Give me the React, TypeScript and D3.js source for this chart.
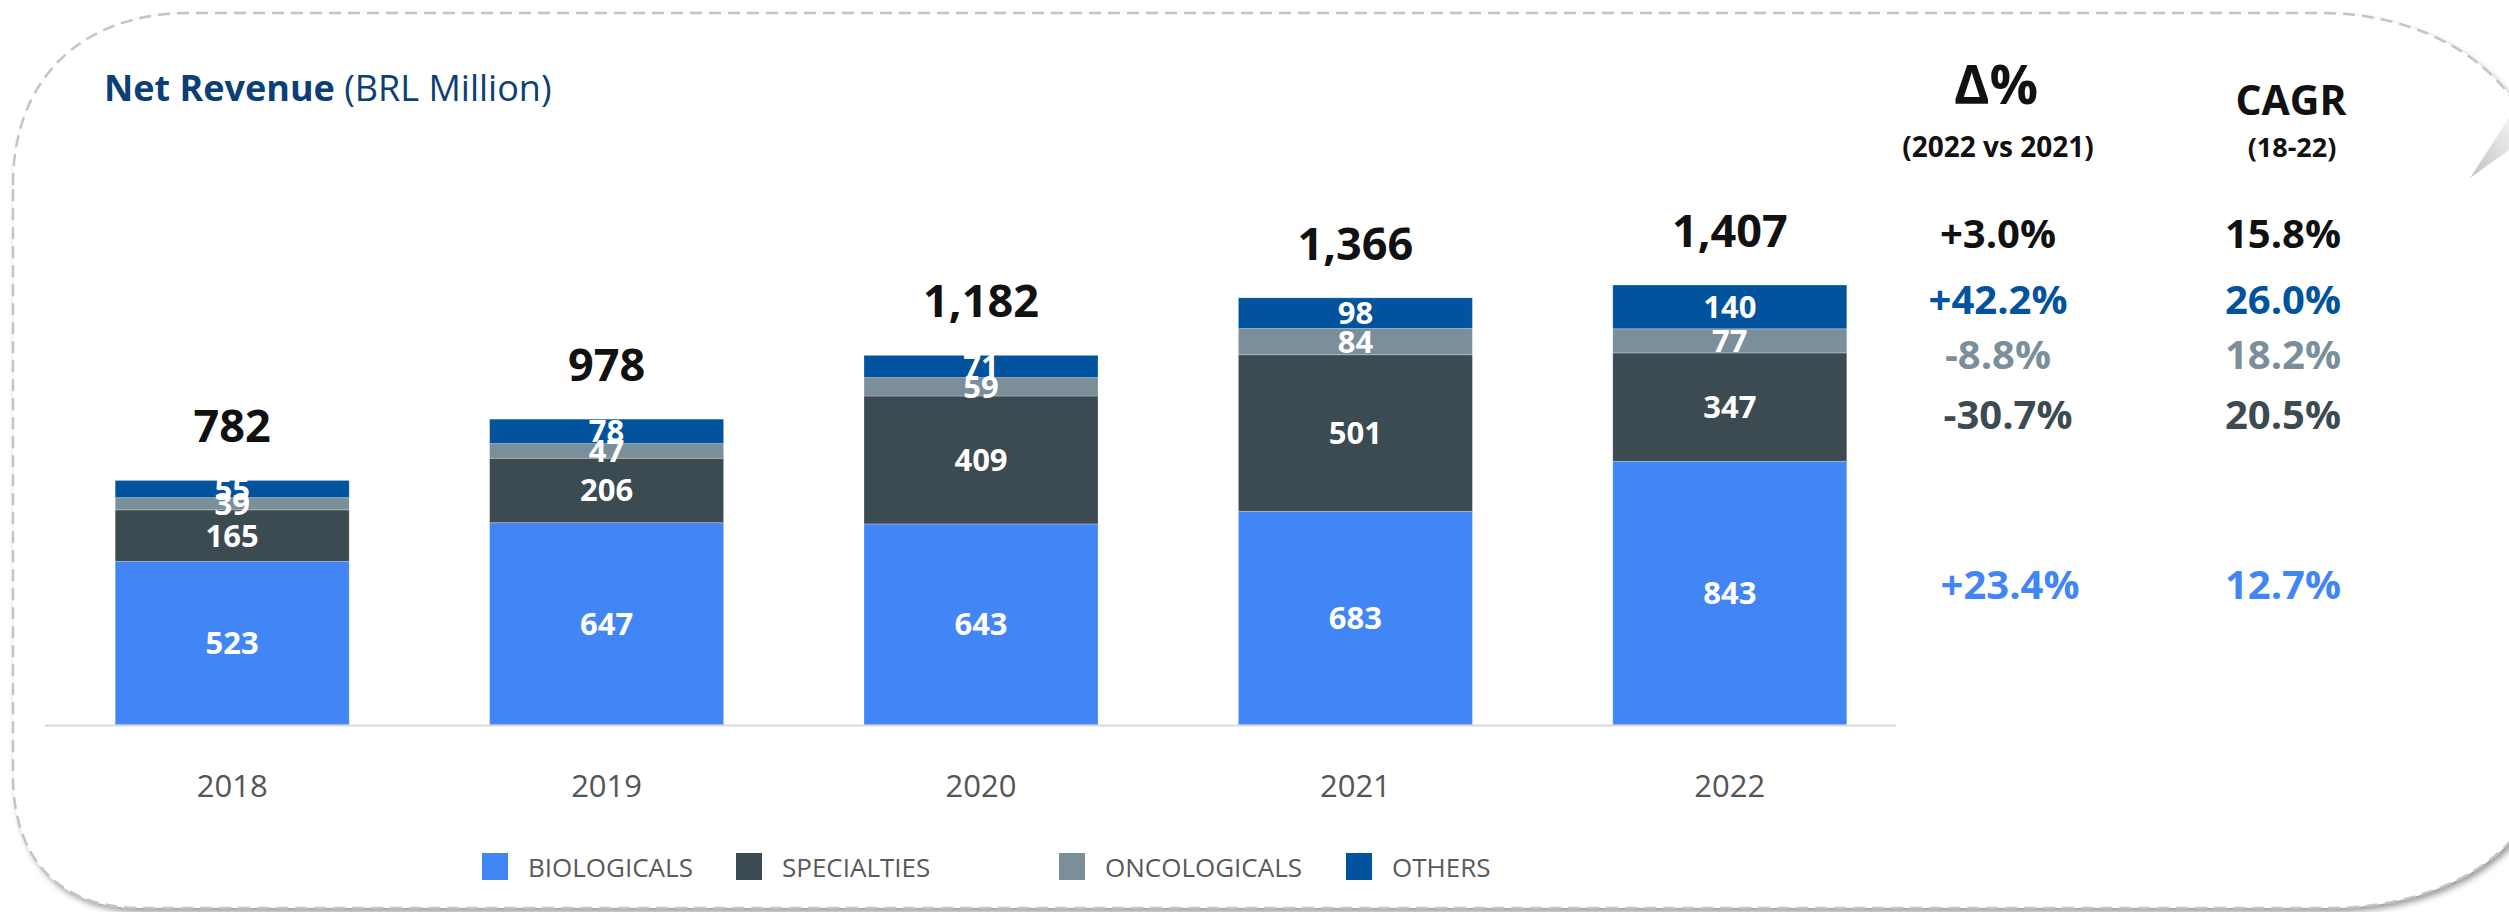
import React from "react";
import * as d3 from "d3";

// values (BRL million)
const years = ["2018", "2019", "2020", "2021", "2022"];
const biologicals = [523, 647, 643, 683, 843];
const specialties = [165, 206, 409, 501, 347];
const oncologicals = [39, 47, 59, 84, 77];
const others = [55, 78, 71, 98, 140];
const seriesNames = ["BIOLOGICALS", "SPECIALTIES", "ONCOLOGICALS", "OTHERS"];

// side table: total, others, oncologicals, specialties, biologicals
const deltaLabels = ["+3.0%", "+42.2%", "-8.8%", "-30.7%", "+23.4%"];
const cagrLabels = ["15.8%", "26.0%", "18.2%", "20.5%", "12.7%"];

const colors = ["#4285f4", "#3c4a51", "#7a8f99", "#00539c"];
const rowColors = ["#111111", "#00539c", "#7a8f99", "#3c4a51", "#4285f4"];
const rowY = [248, 314, 369, 429, 599];
const rowX = [1998, 1998, 1998, 2008, 2010];
const legendX = [482, 736, 1059, 1346];

const W = 2509;
const H = 912;
const FONT = "'Open Sans', 'Noto Sans', sans-serif";

const App: React.FC = () => {
  const table = years.map((yr, i) => ({
    year: yr,
    BIOLOGICALS: biologicals[i],
    SPECIALTIES: specialties[i],
    ONCOLOGICALS: oncologicals[i],
    OTHERS: others[i],
  }));
  const stack = d3.stack<any>().keys(seriesNames)(table);
  const totals = table.map((d) =>
    seriesNames.reduce((s, k) => s + (d as any)[k], 0)
  );

  const x = d3
    .scaleBand()
    .domain(years)
    .range([45, 1917])
    .paddingInner(0.375)
    .paddingOuter(0.1875);
  const y = d3
    .scaleLinear()
    .domain([0, d3.max(totals) ?? 0])
    .range([725, 285]);
  const fmt = d3.format(",");

  // box outline (right side runs off the page)
  const box = [
    "M13,185",
    "C13,80 80,13 190,13",
    "L2320,13",
    "C2420,13 2500,60 2530,130",
    "L2545,780",
    "C2520,870 2420,908 2330,908",
    "L140,908",
    "C60,908 13,860 13,775",
    "Z",
  ].join(" ");

  return (
    <svg
      width={W}
      height={H}
      style={{ position: "absolute", left: 0, top: 0, display: "block" }}
      fontFamily={FONT}
    >
      <defs>
        <filter id="shadow" x="-5%" y="-5%" width="110%" height="115%">
          <feDropShadow dx="3" dy="4" stdDeviation="3" floodColor="#000" floodOpacity="0.4" />
        </filter>
        <linearGradient id="wedge" x1="0" y1="1" x2="1" y2="0">
          <stop offset="0" stopColor="#c2c2c2" />
          <stop offset="1" stopColor="#f0f0f0" />
        </linearGradient>
      </defs>
      <rect width={W} height={H} fill="#fff" />
      <path d={box} fill="#fff" filter="url(#shadow)" />
      <path d={box} fill="none" stroke="#c4c4c4" strokeWidth={2.5} strokeDasharray="12 7" />
      <polygon points="2470,178 2509,118 2509,150" fill="url(#wedge)" />

      <text x={104} y={101} fontSize={36} fill="#0b3f78">
        <tspan fontWeight={700}>Net Revenue</tspan>
        <tspan> (BRL Million)</tspan>
      </text>

      {stack.map((layer, si) =>
        layer.map((d, i) => (
          <rect
            key={`${si}-${i}`}
            x={x(years[i])}
            y={y(d[1])}
            width={x.bandwidth()}
            height={y(d[0]) - y(d[1])}
            fill={colors[si]}
            stroke="#ffffff"
            strokeOpacity={0.25}
            strokeWidth={1}
          />
        ))
      )}

      {/* segment labels, drawn top series first so lower labels sit in front */}
      {[...stack].reverse().map((layer) =>
        layer.map((d, i) => (
          <text
            key={`l-${layer.key}-${i}`}
            x={(x(years[i]) ?? 0) + x.bandwidth() / 2}
            y={(y(d[0]) + y(d[1])) / 2 + 11}
            textAnchor="middle"
            fontSize={31}
            fontWeight={700}
            fill="#fff"
          >
            {d[1] - d[0]}
          </text>
        ))
      )}

      {totals.map((t, i) => (
        <text
          key={`t-${i}`}
          x={(x(years[i]) ?? 0) + x.bandwidth() / 2}
          y={y(t) - 38}
          textAnchor="middle"
          fontSize={45}
          fontWeight={700}
          fill="#111"
        >
          {fmt(t)}
        </text>
      ))}

      <line x1={45} x2={1896} y1={725.5} y2={725.5} stroke="#d9d9d9" strokeWidth={2} />
      {years.map((yr) => (
        <text
          key={yr}
          x={(x(yr) ?? 0) + x.bandwidth() / 2}
          y={797}
          textAnchor="middle"
          fontSize={31}
          fill="#555"
        >
          {yr}
        </text>
      ))}

      {seriesNames.map((s, i) => (
        <g key={s} transform={`translate(${legendX[i]},853)`}>
          <rect width={26} height={27} fill={colors[i]} />
          <text x={46} y={24} fontSize={26} fill="#595959">
            {s}
          </text>
        </g>
      ))}

      <text x={1996} y={104} textAnchor="middle" fontSize={54} fontWeight={700} fill="#111">
        Δ%
      </text>
      <text x={1998} y={157} textAnchor="middle" fontSize={28} fontWeight={700} fill="#111">
        (2022 vs 2021)
      </text>
      <text x={2291} y={115} textAnchor="middle" fontSize={41} fontWeight={700} fill="#111">
        CAGR
      </text>
      <text x={2292} y={157} textAnchor="middle" fontSize={27} fontWeight={700} fill="#111">
        (18-22)
      </text>
      {deltaLabels.map((lab, i) => (
        <text
          key={`d-${i}`}
          x={rowX[i]}
          y={rowY[i]}
          textAnchor="middle"
          fontSize={40}
          fontWeight={700}
          fill={rowColors[i]}
        >
          {lab}
        </text>
      ))}
      {cagrLabels.map((lab, i) => (
        <text
          key={`c-${i}`}
          x={2341}
          y={rowY[i]}
          textAnchor="end"
          fontSize={40}
          fontWeight={700}
          fill={rowColors[i]}
        >
          {lab}
        </text>
      ))}
    </svg>
  );
};

export default App;
